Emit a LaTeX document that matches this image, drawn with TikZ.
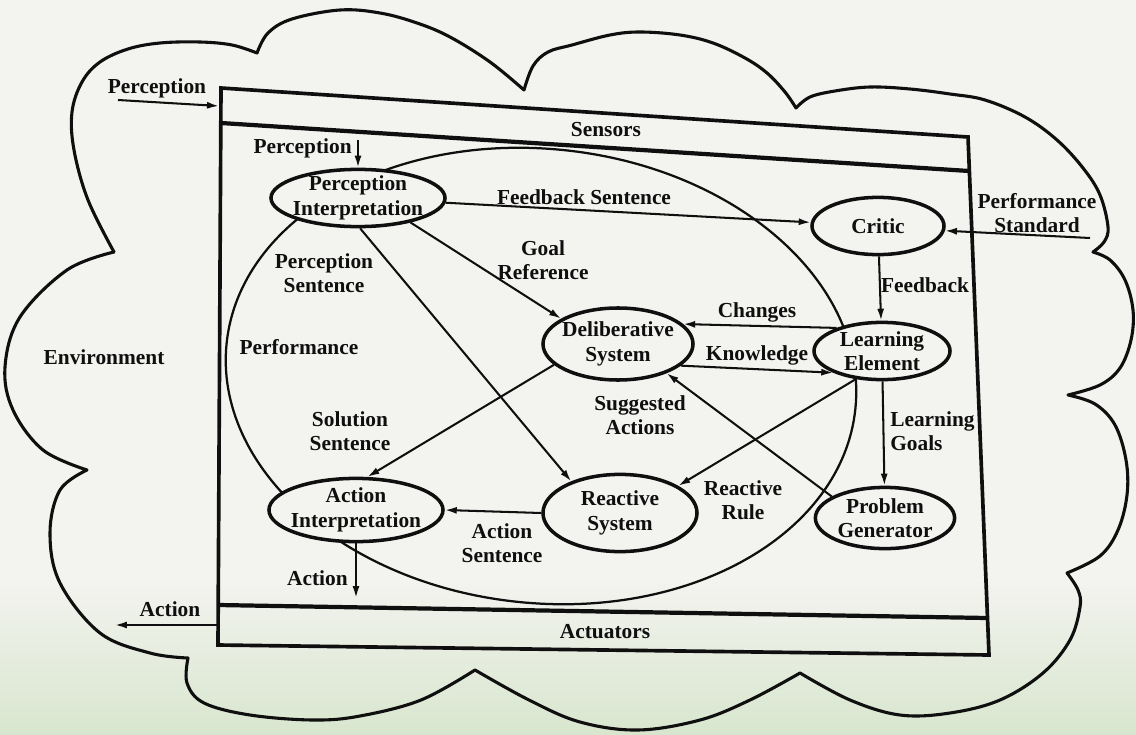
\documentclass[tikz,border=0pt]{standalone}
\usepackage{fontspec}
\setmainfont{Liberation Serif}
\usetikzlibrary{shapes.geometric,arrows.meta}
\definecolor{paper}{RGB}{243,243,239}
\definecolor{tint}{RGB}{216,230,206}
\definecolor{ink}{RGB}{15,15,15}
\newcommand{\lblfont}{\fontsize{15.2}{17.4}\selectfont\bfseries}

\begin{document}
\begin{tikzpicture}[x=0.025cm, y=-0.025cm,
  lbl/.style={font=\lblfont, align=center, inner sep=0pt, text=ink},
  unit/.style={ellipse, draw=ink, line width=2.5pt, fill=paper, inner sep=0pt},
  link/.style={draw=ink, line width=1.45pt},
  arr/.style={link, -{Latex[length=8.5pt,width=5pt]}},
  frame/.style={draw=ink, line width=2.6pt, line join=miter},
  band/.style={draw=ink, line width=3pt},
  cloudline/.style={draw=ink, line width=2.2pt, line join=round, line cap=round},
  bump/.style={smooth, tension=0.6},
]
\useasboundingbox (0,0) rectangle (1136,735);
\fill[paper] (0,0) rectangle (1136,735);
\shade[top color=paper, bottom color=tint] (0,580) rectangle (1136,735);

% environment cloud
\draw[cloudline]
  plot[bump] coordinates {(114,252) (88,200) (74,150) (72,112) (82,82) (100,62) (128,49) (160,43) (200,42) (232,45) (257,53)}
  -- plot[bump] coordinates {(257,53) (268,33) (292,19) (340,10) (380,13) (417,23) (450,37) (490,62) (524,90)}
  -- plot[bump] coordinates {(524,90) (533,66) (548,52) (572,45) (610,35) (640,32) (680,35) (713,43) (745,58) (767,73) (785,92) (796,108)}
  -- plot[bump] coordinates {(796,108) (810,97) (835,91) (870,87) (910,89) (950,94) (985,100) (1025,117) (1057,140) (1083,168) (1100,195) (1108,227) (1104,242) (1093,252)}
  -- plot[bump] coordinates {(1093,252) (1110,260) (1125,280) (1133,310) (1131,340) (1120,368) (1100,385) (1068,395)}
  -- plot[bump] coordinates {(1068,395) (1095,404) (1115,425) (1126,460) (1127,495) (1118,530) (1100,556) (1067,573)}
  -- plot[bump] coordinates {(1067,573) (1078,590) (1080,607) (1070,640) (1043,673) (1000,700) (950,713) (900,715) (850,700) (800,673)}
  -- plot[bump] coordinates {(800,673) (750,700) (700,720) (638,730) (580,722) (529,700) (475,670)}
  -- plot[bump] coordinates {(475,670) (421,700) (360,716) (313,720) (250,715) (204,703) (187,683) (188,658)}
  -- plot[bump] coordinates {(188,658) (150,653) (100,633) (60,583) (50,533) (60,490) (87,470)}
  -- plot[bump] coordinates {(87,470) (43,450) (13,410) (5,367) (20,317) (67,270) (114,252)};
\node[lbl] (envlbl) at (104,357) {Environment};

% agent frame with sensor and actuator bands
\coordinate (tl) at (221,88);
\coordinate (tr) at (968,137);
\coordinate (br) at (989,655);
\coordinate (bl) at (218,645);
\coordinate (sl) at (221,123);
\coordinate (sr) at (969,171);
\coordinate (al) at (218,605);
\coordinate (ar) at (987,618);
\draw[frame] (tl) -- (tr) -- (br) -- (bl) -- cycle;
\draw[band] (sl) -- (sr);
\draw[band] (al) -- (ar);
\node[lbl] (sensors) at (606,130) {Sensors};
\node[lbl] (actuators) at (605,632) {Actuators};

% performance element boundary
\draw[link, line width=1.6pt, rotate around={-6:(541,376)}] (541,376) ellipse [x radius=7.9cm, y radius=5.675cm];
\node[lbl] (perf) at (299,347) {Performance};

% components
\node[unit, minimum width=4.35cm, minimum height=1.43cm] (pi) at (358,198) {};
\node[unit, minimum width=3.3cm, minimum height=1.43cm] (critic) at (878,226) {};
\node[unit, minimum width=3.75cm, minimum height=1.8cm] (ds) at (618,344) {};
\node[unit, minimum width=3.4cm, minimum height=1.43cm] (le) at (882,351) {};
\node[unit, minimum width=3.85cm, minimum height=1.93cm] (rs) at (620,513) {};
\node[unit, minimum width=3.48cm, minimum height=1.53cm] (pg) at (885,518) {};
\node[unit, minimum width=4.35cm, minimum height=1.58cm] (ai) at (356,510) {};

\node[lbl] (pi-t) at (pi) {Perception\\Interpretation};
\node[lbl] (critic-t) at (critic) {Critic};
\node[lbl] (ds-t) at (ds) {Deliberative\\System};
\node[lbl] (le-t) at (le) {Learning\\Element};
\node[lbl] (rs-t) at (rs) {Reactive\\System};
\node[lbl] (pg-t) at (pg) {Problem\\Generator};
\node[lbl] (ai-t) at (ai) {Action\\Interpretation};

% inputs and outputs
\coordinate (penv) at (118,100);
\coordinate (pbox) at (219,106);
\draw[arr] (penv) -- (pbox);
\node[lbl] (penv-l) at (157,88) {Perception};

\coordinate (pin) at (358,140);
\draw[arr] (pin) -- (pi.north);
\node[lbl, anchor=east] (pin-l) at (352,148) {Perception};

\coordinate (pstd) at (1090,238);
\draw[arr] (pstd) -- (critic.-4);
\node[lbl] (pstd-l) at (1037,213) {Performance\\Standard};

\coordinate (aout) at (356,598);
\draw[arr] (ai.south) -- (aout);
\node[lbl, anchor=east] (aout-l) at (348,578) {Action};

\coordinate (abox) at (218,625);
\coordinate (aenv) at (115,625);
\draw[arr] (abox) -- (aenv);
\node[lbl] (aenv-l) at (170,609) {Action};

% information flow between components
\draw[arr] (pi) -- (critic);
\node[lbl] (fs-l) at (584,197) {Feedback Sentence};

\draw[arr] (critic) -- (le);
\node[lbl] (fb-l) at (925,285) {Feedback};

\draw[arr] (le.153) -- (ds.17);
\node[lbl] (ch-l) at (757,312) {Changes};

\draw[arr] (ds.-19) -- (le.204);
\node[lbl] (kn-l) at (757,355) {Knowledge};

\draw[arr] (le) -- (pg);
\node[lbl, align=left, anchor=west] (lg-l) at (890,431) {Learning\\Goals};

\draw[arr] (pi.-25) -- (ds.156);
\node[lbl] (gr-l) at (543,260) {Goal\\Reference};

\draw[arr] (pi.-86) -- (rs.147);
\node[lbl] (ps-l) at (324,273) {Perception\\Sentence};

\draw[arr] (ds.198) -- (ai.71);
\node[lbl] (ss-l) at (350,431) {Solution\\Sentence};

\draw[arr] (le.227) -- (rs.25);
\node[lbl] (rr-l) at (743,500) {Reactive\\Rule};

\draw[arr] (pg.158) -- (ds.-31);
\node[lbl] (sa-l) at (640,415) {Suggested\\Actions};

\draw[arr] (rs.west) -- (ai.east);
\node[lbl] (as-l) at (502,543) {Action\\Sentence};
\end{tikzpicture}
\end{document}
